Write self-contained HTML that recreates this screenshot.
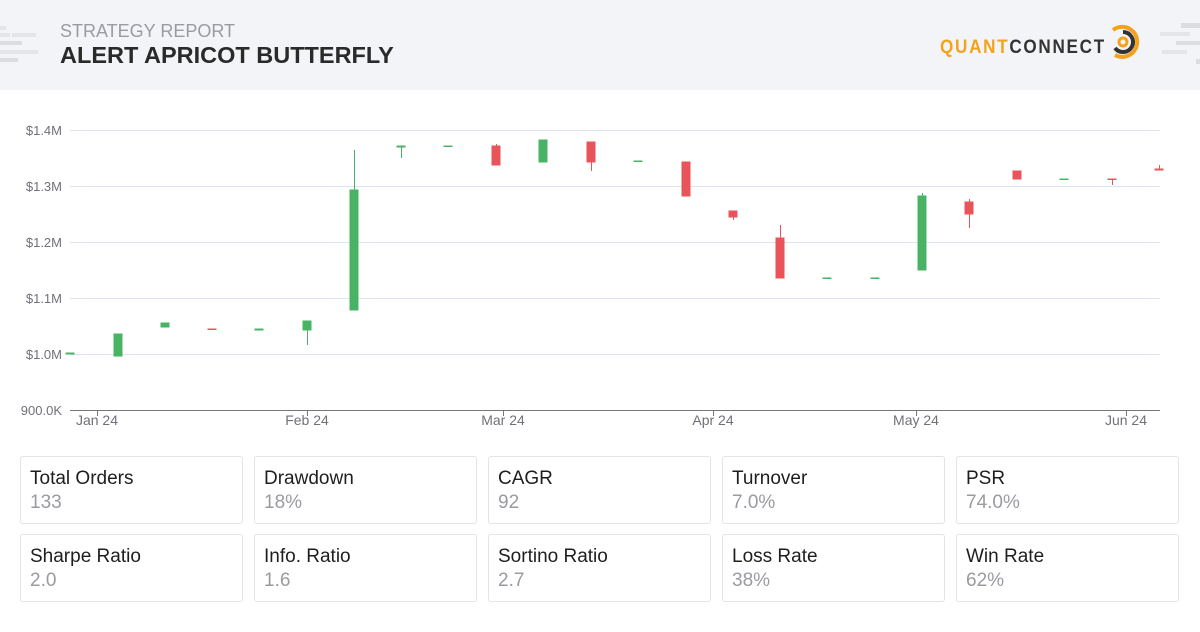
<!DOCTYPE html>
<html><head><style>
body{margin:0;width:1200px;height:632px;background:#fff;font-family:"Liberation Sans",sans-serif;position:relative;overflow:hidden}
.hdr{position:absolute;left:0;top:0;width:1200px;height:90px;background:#f3f4f7}
.sub{position:absolute;left:60px;top:21px;font-size:18px;color:#9a9ba1}
.ttl{position:absolute;left:60px;top:42px;font-size:23.5px;font-weight:bold;color:#2a2a2a}
.card{position:absolute;width:221px;height:66px;border:1px solid #e3e4e8;border-radius:3px}
.card .l{position:absolute;left:9px;top:11px;font-size:19px;color:#1e1e1e}
.card .v{position:absolute;left:9px;top:35px;font-size:19px;color:#9a9ba1}
</style></head><body>
<div class="hdr">
<div style="position:absolute;left:0;top:26px;width:6px;height:4px;background:#e4e5e9"></div>
<div style="position:absolute;left:0;top:33px;width:10px;height:4px;background:#e4e5e9"></div>
<div style="position:absolute;left:12px;top:33px;width:24px;height:4px;background:#e4e5e9"></div>
<div style="position:absolute;left:0;top:41px;width:22px;height:4px;background:#dcdde1"></div>
<div style="position:absolute;left:0;top:50px;width:38px;height:4px;background:#e4e5e9"></div>
<div style="position:absolute;left:0;top:58px;width:18px;height:4px;background:#dcdde1"></div>
<div style="position:absolute;left:1181px;top:23px;width:19px;height:5px;background:#dcdde1"></div>
<div style="position:absolute;left:1160px;top:32px;width:30px;height:4px;background:#e4e5e9"></div>
<div style="position:absolute;left:1176px;top:41px;width:24px;height:4px;background:#dcdde1"></div>
<div style="position:absolute;left:1162px;top:50px;width:25px;height:4px;background:#e4e5e9"></div>
<div style="position:absolute;left:1196px;top:59px;width:4px;height:5px;background:#dcdde1"></div>
</div>
<div class="sub">STRATEGY REPORT</div>
<div class="ttl">ALERT APRICOT BUTTERFLY</div>
<div style="position:absolute;left:940px;top:37px;font-size:19px;font-weight:bold;letter-spacing:1.9px;transform:scaleX(0.9);transform-origin:0 0;white-space:nowrap"><span style="color:#f5a21b">QUANT</span><span style="color:#333">CONNECT</span></div>
<svg style="position:absolute;left:1105px;top:24px" width="36" height="36" viewBox="0 0 36 36">
<path d="M8 6 A15 15 0 1 1 10 31" fill="none" stroke="#f5a21b" stroke-width="4"/>
<path d="M18 8 A10 10 0 1 1 10 24" fill="none" stroke="#333" stroke-width="4"/>
<circle cx="18" cy="18" r="4" fill="none" stroke="#f5a21b" stroke-width="3"/>
</svg>
<svg style="position:absolute;left:0;top:0" width="1200" height="440" font-family="Liberation Sans, sans-serif">
<g stroke="#dde3f0" stroke-width="1">
<line x1="70" y1="130.5" x2="1160" y2="130.5"/><line x1="70" y1="186.5" x2="1160" y2="186.5"/><line x1="70" y1="242.5" x2="1160" y2="242.5"/><line x1="70" y1="298.5" x2="1160" y2="298.5"/><line x1="70" y1="354.5" x2="1160" y2="354.5"/>
</g>
<line x1="70" y1="410.5" x2="1160" y2="410.5" stroke="#777"/>
<g stroke="#777"><line x1="97.5" y1="410" x2="97.5" y2="416"/><line x1="307.5" y1="410" x2="307.5" y2="416"/><line x1="503.5" y1="410" x2="503.5" y2="416"/><line x1="713.5" y1="410" x2="713.5" y2="416"/><line x1="916.5" y1="410" x2="916.5" y2="416"/><line x1="1126.5" y1="410" x2="1126.5" y2="416"/></g>
<g fill="#707178" font-size="13" text-anchor="end">
<text x="62" y="135">$1.4M</text><text x="62" y="191">$1.3M</text><text x="62" y="247">$1.2M</text><text x="62" y="303">$1.1M</text><text x="62" y="359">$1.0M</text><text x="62" y="415">900.0K</text>
</g>
<g fill="#707178" font-size="14" text-anchor="middle">
<text x="97" y="425">Jan 24</text><text x="307" y="425">Feb 24</text><text x="503" y="425">Mar 24</text><text x="713" y="425">Apr 24</text><text x="916" y="425">May 24</text><text x="1126" y="425">Jun 24</text>
</g>
<g fill="#48b365" stroke="#48b365">
<rect x="66" y="353" width="8" height="1"/>
<rect x="114" y="334" width="8" height="22"/>
<rect x="161" y="323" width="8" height="4"/>
<rect x="255" y="329" width="8" height="1"/>
<line x1="307.5" y1="321" x2="307.5" y2="345"/><rect x="303" y="321" width="8" height="9"/>
<line x1="354.5" y1="150" x2="354.5" y2="310"/><rect x="350" y="190" width="8" height="120"/>
<line x1="401.5" y1="146" x2="401.5" y2="158"/><rect x="397" y="146" width="8" height="1"/>
<rect x="444" y="146" width="8" height="0.5"/>
<rect x="539" y="140" width="8" height="22"/>
<rect x="634" y="161" width="8" height="0.5"/>
<rect x="823" y="278" width="8" height="0.5"/>
<rect x="871" y="278" width="8" height="0.5"/>
<line x1="922.5" y1="193" x2="922.5" y2="270"/><rect x="918" y="196" width="8" height="74"/>
<rect x="1060" y="179" width="8" height="0.5"/>
</g>
<g fill="#e8545a" stroke="#e8545a">
<rect x="208" y="329" width="8" height="0.5"/>
<line x1="496.5" y1="144" x2="496.5" y2="165"/><rect x="492" y="146" width="8" height="19"/>
<line x1="591.5" y1="142" x2="591.5" y2="171"/><rect x="587" y="142" width="8" height="20"/>
<rect x="682" y="162" width="8" height="34"/>
<line x1="733.5" y1="211" x2="733.5" y2="220"/><rect x="729" y="211" width="8" height="6"/>
<line x1="780.5" y1="225" x2="780.5" y2="278"/><rect x="776" y="238" width="8" height="40"/>
<line x1="969.5" y1="199" x2="969.5" y2="228"/><rect x="965" y="202" width="8" height="12"/>
<rect x="1013" y="171" width="8" height="8"/>
<line x1="1112.5" y1="179" x2="1112.5" y2="185"/><rect x="1108" y="179" width="8" height="0.5"/>
<line x1="1159.5" y1="165" x2="1159.5" y2="170"/><rect x="1155" y="169" width="8" height="1"/>
</g>
<line x1="20" y1="440.5" x2="1180" y2="440.5" stroke="#e3e4e8"/>
</svg>
<div class="card" style="left:20px;top:456px"><div class="l">Total Orders</div><div class="v">133</div></div>
<div class="card" style="left:254px;top:456px"><div class="l">Drawdown</div><div class="v">18%</div></div>
<div class="card" style="left:488px;top:456px"><div class="l">CAGR</div><div class="v">92</div></div>
<div class="card" style="left:722px;top:456px"><div class="l">Turnover</div><div class="v">7.0%</div></div>
<div class="card" style="left:956px;top:456px"><div class="l">PSR</div><div class="v">74.0%</div></div>
<div class="card" style="left:20px;top:534px"><div class="l">Sharpe Ratio</div><div class="v">2.0</div></div>
<div class="card" style="left:254px;top:534px"><div class="l">Info. Ratio</div><div class="v">1.6</div></div>
<div class="card" style="left:488px;top:534px"><div class="l">Sortino Ratio</div><div class="v">2.7</div></div>
<div class="card" style="left:722px;top:534px"><div class="l">Loss Rate</div><div class="v">38%</div></div>
<div class="card" style="left:956px;top:534px"><div class="l">Win Rate</div><div class="v">62%</div></div>
</body></html>
